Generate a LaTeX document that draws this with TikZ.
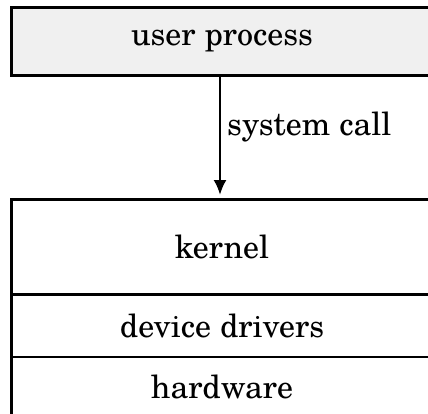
\documentclass[tikz,border=0pt]{standalone}
\usepackage{fontspec}
\setmainfont{texgyreschola-regular.otf}
\usetikzlibrary{arrows.meta}
\begin{document}
\begin{tikzpicture}[x=1pt,y=-1pt,
  layer/.style={draw=black, line width=2.8pt, minimum width=421pt, inner sep=0pt, font=\fontsize{32}{38}\selectfont},
  conn/.style={line width=2.8pt, -{Latex[length=15pt,width=13pt]}, shorten >=3pt}]
\useasboundingbox (0,0) rectangle (428,414);
\node[layer, fill={rgb,255:red,240;green,240;blue,240}, minimum height=68pt] (user) at (222,41.5) {user process};
\node[layer, minimum height=95.3pt] (kernel) at (222,247.15) {kernel};
\node[layer, minimum height=62.2pt] (drivers) at (222,325.9) {device drivers};
\node[layer, minimum height=60pt] (hw) at (222,387) {hardware};
\draw[conn] (user.south -| 220,0) -- (kernel.north -| 220,0);
\node[anchor=west, inner sep=0pt, font=\fontsize{32}{38}\selectfont] (lbl) at (227,127) {system call};
\end{tikzpicture}
\end{document}
